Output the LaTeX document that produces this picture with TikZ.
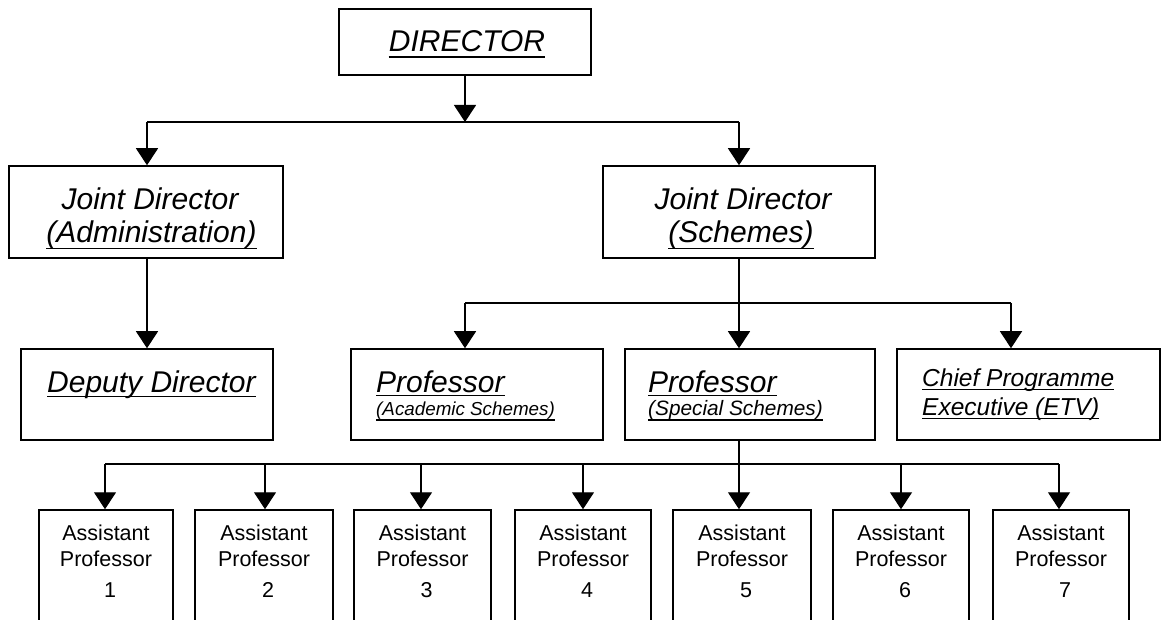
\documentclass[tikz,border=0pt]{standalone}
\usepackage{fontspec}
\setmainfont{Liberation Sans}
\usetikzlibrary{arrows.meta}
\newcommand\myul[2]{\draw[ulstyle] ([yshift=-#2]#1.base west) -- ([yshift=-#2]#1.base east);}
\begin{document}
\begin{tikzpicture}[x=1pt,y=-1pt,
  box/.style={draw, line width=1.5pt, rectangle, inner sep=0pt},
  conn/.style={line width=1.3pt},
  arr/.style={line width=1.3pt, -{Triangle[length=17pt,width=22pt]}},
  ulstyle/.style={line width=1.3pt},
  big/.style={inner sep=0pt, anchor=base, font=\itshape\fontsize{30}{30}\selectfont},
  bigw/.style={big, anchor=base west},
  small/.style={inner sep=0pt, anchor=base west, font=\itshape\fontsize{18.8}{18.8}\selectfont},
  smallb/.style={inner sep=0pt, anchor=base west, font=\itshape\fontsize{20.8}{20.8}\selectfont},
  mid/.style={inner sep=0pt, anchor=base west, font=\itshape\fontsize{24.5}{24.5}\selectfont},
  apt/.style={inner sep=0pt, anchor=base, font=\fontsize{21.5}{21.5}\selectfont}
]
\clip (0,0) rectangle (1162,620);
\fill[white] (0,0) rectangle (1162,620);

% boxes
\node[box, minimum width=252pt, minimum height=66pt] (dir) at (465,42) {};
\node[box, minimum width=274pt, minimum height=92pt] (jda) at (146,212) {};
\node[box, minimum width=272pt, minimum height=92pt] (jds) at (739,212) {};
\node[box, minimum width=252pt, minimum height=91pt] (dep) at (147,394.5) {};
\node[box, minimum width=252pt, minimum height=91pt] (pa) at (477,394.5) {};
\node[box, minimum width=250pt, minimum height=91pt] (ps) at (750,394.5) {};
\node[box, minimum width=263pt, minimum height=91pt] (chief) at (1028.5,394.5) {};

% texts
\node[big] (tdir) at (467,52) {DIRECTOR}; \myul{tdir}{5pt}
\node[big] (tjda1) at (150,210) {Joint Director};
\node[big] (tjda2) at (151.5,243) {(Administration)}; \myul{tjda2}{5.5pt}
\node[big] (tjds1) at (743,210) {Joint Director};
\node[big] (tjds2) at (741,243) {(Schemes)}; \myul{tjds2}{5.5pt}
\node[bigw] (tdep) at (47,392) {Deputy Director}; \myul{tdep}{4.5pt}
\node[bigw] (tpa1) at (376,392) {Professor}; \myul{tpa1}{3.5pt}
\node[small] (tpa2) at (376,415) {(Academic Schemes)}; \myul{tpa2}{5pt}
\node[bigw] (tps1) at (648,392) {Professor}; \myul{tps1}{3.5pt}
\node[smallb] (tps2) at (648,415) {(Special Schemes)}; \myul{tps2}{5pt}
\node[mid] (tch1) at (922,386) {Chief Programme}; \myul{tch1}{3.5pt}
\node[mid] (tch2) at (922,415) {Executive (ETV)}; \myul{tch2}{3.5pt}

% level 1 connectors
\coordinate (b1) at (465,122);
\coordinate (b1l) at (147,122);
\coordinate (b1r) at (739,122);
\draw[conn] (b1l) -- (b1r);
\draw[arr] (dir.south) -- (b1);
\draw[arr] (b1l) -- (b1l |- jda.north);
\draw[arr] (b1r) -- (b1r |- jds.north);

% admin branch
\draw[arr] (dep.north |- jda.south) -- (dep.north);

% schemes branch
\coordinate (b2l) at (465,303);
\coordinate (b2r) at (1011,303);
\draw[conn] (b2l) -- (b2r);
\draw[arr] (jds.south) -- (jds.south |- ps.north);
\draw[arr] (b2l) -- (b2l |- pa.north);
\draw[arr] (b2r) -- (b2r |- chief.north);

% assistant professors
\coordinate (b3l) at (105,464);
\coordinate (b3r) at (1059,464);
\coordinate (b3s) at (739,464);
\draw[conn] (b3l) -- (b3r);
\draw[conn] (b3s |- ps.south) -- (b3s);
\foreach \i/\cx/\w/\ax in {1/106/134/105, 2/264/138/265, 3/422.5/137/421, 4/583/136/583, 5/742/138/739, 6/901/136/901, 7/1061/136/1059} {
  \node[box, minimum width=\w pt, minimum height=130pt] (ap\i) at (\cx,575) {};
  \node[apt] (apa\i) at (\cx,540) {Assistant};
  \node[apt] (app\i) at (\cx,566) {Professor};
  \node[apt] (apn\i) at (\cx+4,597) {\i};
  \coordinate (c\i) at (\ax,464);
  \draw[arr] (c\i) -- (c\i |- ap\i.north);
}
\end{tikzpicture}
\end{document}
